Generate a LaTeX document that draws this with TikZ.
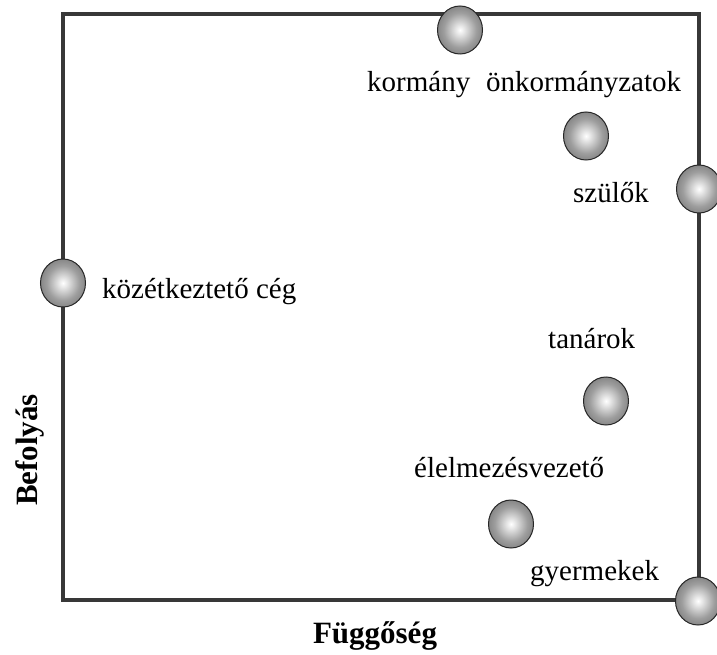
\documentclass[tikz,border=0pt]{standalone}
\usepackage{fontspec}
\setmainfont{Liberation Serif}
\usetikzlibrary{shapes.geometric}

% grey sphere: white core fading to a dark rim
\pgfdeclareradialshading{sphereshade}{\pgfpoint{0bp}{0bp}}{%
  color(0bp)=(white);
  color(4bp)=(black!8);
  color(18bp)=(black!38);
  color(32bp)=(black!56);
  color(43bp)=(black!68);
  color(50bp)=(black!85)}

\tikzset{
  frame/.style={draw=black!78, line width=4pt},
  sphere/.style={ellipse, minimum width=45pt, minimum height=48pt, inner sep=0pt,
    shading=sphereshade, draw=black!85, line width=1pt},
  lbl/.style={anchor=base west, inner sep=0pt, font=\fontsize{29}{33}\selectfont},
  axis/.style={inner sep=0pt, font=\fontsize{31}{35}\selectfont\bfseries}
}

\begin{document}
\begin{tikzpicture}[x=1pt, y=-1pt]
  \useasboundingbox (0,0) rectangle (717,655);
  \fill[white] (0,0) rectangle (717,655);

  % frame corners
  \coordinate (tl) at (63,14);
  \coordinate (br) at (699,600);
  \draw[frame] (tl) rectangle (br);

  % stakeholders
  \node[sphere] (kormany)   at (460,30)  {};
  \node[sphere] (onkorm)    at (586,136) {};
  \node[sphere] (szulok)    at (699,189) {};
  \node[sphere] (kozetk)    at (63,283)  {};
  \node[sphere] (tanarok)   at (606,401) {};
  \node[sphere] (elelmez)   at (511,524) {};
  \node[sphere] (gyermekek) at (698,601) {};

  % labels
  \node[lbl] (l-kormany)   at (367,92)  {kormány};
  \node[lbl] (l-onkorm)    at (486,92)  {önkormányzatok};
  \node[lbl] (l-szulok)    at (573,202) {szülők};
  \node[lbl] (l-kozetk)    at (102,298) {közétkeztető cég};
  \node[lbl] (l-tanarok)   at (548,348) {tanárok};
  \node[lbl] (l-elelmez)   at (414,477) {élelmezésvezető};
  \node[lbl] (l-gyermekek) at (530,580) {gyermekek};

  % axis titles
  \node[axis, anchor=base, rotate=90] (ylab) at (37,450) {Befolyás};
  \node[axis, anchor=base] (xlab) at (375,643) {Függőség};
\end{tikzpicture}
\end{document}
